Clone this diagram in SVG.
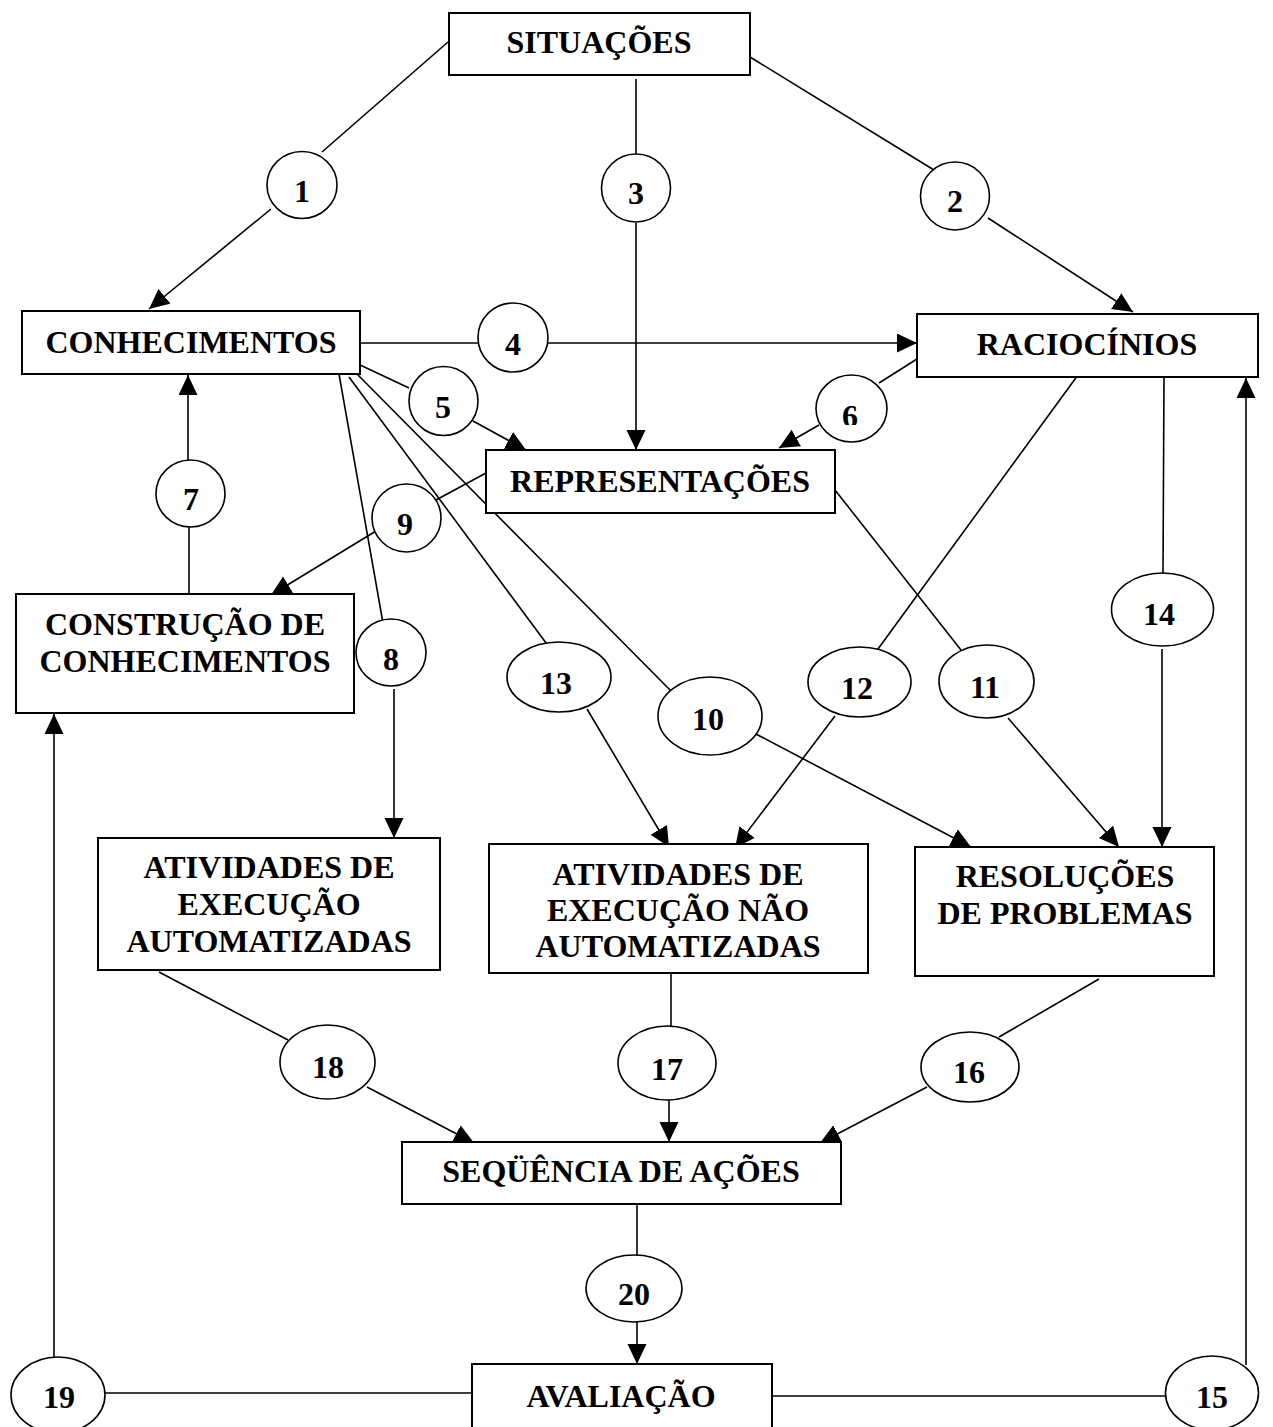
<svg xmlns="http://www.w3.org/2000/svg" width="1273" height="1427" viewBox="0 0 1273 1427">
  <style>
    .box { fill: #fff; stroke: #000; stroke-width: 2; }
    .num { fill: #fff; stroke: #000; stroke-width: 1.6; }
    .lbl { font-family: "Liberation Serif", "Times New Roman", serif; font-weight: bold; font-size: 32px; text-anchor: middle; fill: #000; }
    .edge { fill: none; stroke: #000; stroke-width: 1.6; }
    .arr { marker-end: url(#head); }
  </style>
  <defs>
    <marker id="head" markerUnits="userSpaceOnUse" markerWidth="20" markerHeight="20" refX="20" refY="9.5" orient="auto">
      <path d="M0,0 L20,9.5 L0,19 z" fill="#000"/>
    </marker>
    <clipPath id="clip6">
      <rect x="820" y="380" width="60" height="45"/>
    </clipPath>
  </defs>
  <rect width="1273" height="1427" fill="#fff"/>

  <g id="connectors">
    <path class="edge" d="M448,42 L322,152"/>
    <path class="edge arr" d="M271,209 L149,309"/>
    <path class="edge" d="M636,79 L636,154"/>
    <path class="edge arr" d="M636,223 L636,450"/>
    <path class="edge" d="M750,57 L934,170"/>
    <path class="edge arr" d="M988,218 L1133,312"/>
    <path class="edge" d="M360,343 L478,343"/>
    <path class="edge arr" d="M548,343 L917,343"/>
    <path class="edge" d="M358,364 L409,388"/>
    <path class="edge arr" d="M473,421 L526,450"/>
    <path class="edge" d="M917,359 L879,383"/>
    <path class="edge arr" d="M819,425 L779,448"/>
    <path class="edge" d="M189,594 L189,527"/>
    <path class="edge arr" d="M188,460 L188,375"/>
    <path class="edge" d="M486,473 L436,500"/>
    <path class="edge arr" d="M376,531 L271,595"/>
    <path class="edge" d="M339,374 L383,623"/>
    <path class="edge arr" d="M394,689 L394,838"/>
    <path class="edge" d="M349,377 L552,651"/>
    <path class="edge arr" d="M587,709 L669,847"/>
    <path class="edge" d="M357,374 L673,693"/>
    <path class="edge arr" d="M754,733 L971,847"/>
    <path class="edge" d="M835,490 L961,650"/>
    <path class="edge arr" d="M1008,718 L1119,847"/>
    <path class="edge" d="M1078,375 L878,649"/>
    <path class="edge arr" d="M835,716 L735,848"/>
    <path class="edge" d="M1164,377 L1163,573"/>
    <path class="edge arr" d="M1162,649 L1162,847"/>
    <path class="edge" d="M1173,1396 L772,1396"/>
    <path class="edge arr" d="M1246,1365 L1246,378"/>
    <path class="edge" d="M1099,979 L999,1037"/>
    <path class="edge arr" d="M927,1087 L820,1143"/>
    <path class="edge" d="M671,973 L671,1026"/>
    <path class="edge arr" d="M669,1100 L669,1142"/>
    <path class="edge" d="M159,972 L288,1040"/>
    <path class="edge arr" d="M367,1087 L474,1143"/>
    <path class="edge" d="M472,1393 L105,1393"/>
    <path class="edge arr" d="M54,1357 L54,714"/>
    <path class="edge" d="M637,1204 L637,1255"/>
    <path class="edge arr" d="M637,1322 L637,1364"/>
  </g>

  <!-- concept boxes -->
  <g id="situacoes"><rect class="box" x="449" y="13" width="301" height="62"/><text class="lbl" x="599" y="53">SITUAÇÕES</text></g>
  <g id="conhecimentos"><rect class="box" x="22" y="311" width="338" height="63"/><text class="lbl" x="191" y="353">CONHECIMENTOS</text></g>
  <g id="raciocinios"><rect class="box" x="917" y="314" width="341" height="63"/><text class="lbl" x="1087" y="355">RACIOCÍNIOS</text></g>
  <g id="representacoes"><rect class="box" x="486" y="450" width="349" height="63"/><text class="lbl" x="660" y="492">REPRESENTAÇÕES</text></g>
  <g id="construcao"><rect class="box" x="16" y="594" width="338" height="119"/><text class="lbl" x="185" y="635">CONSTRUÇÃO DE</text><text class="lbl" x="185" y="672">CONHECIMENTOS</text></g>
  <g id="ativ-auto"><rect class="box" x="98" y="838" width="342" height="132"/><text class="lbl" x="269" y="878">ATIVIDADES DE</text><text class="lbl" x="269" y="915">EXECUÇÃO</text><text class="lbl" x="269" y="952">AUTOMATIZADAS</text></g>
  <g id="ativ-nao-auto"><rect class="box" x="489" y="844" width="379" height="129"/><text class="lbl" x="678" y="885">ATIVIDADES DE</text><text class="lbl" x="678" y="921">EXECUÇÃO NÃO</text><text class="lbl" x="678" y="957">AUTOMATIZADAS</text></g>
  <g id="resolucoes"><rect class="box" x="915" y="847" width="299" height="129"/><text class="lbl" x="1065" y="887">RESOLUÇÕES</text><text class="lbl" x="1065" y="924">DE PROBLEMAS</text></g>
  <g id="sequencia"><rect class="box" x="402" y="1142" width="439" height="62"/><text class="lbl" x="621" y="1182">SEQÜÊNCIA DE AÇÕES</text></g>
  <g id="avaliacao"><rect class="box" x="472" y="1364" width="300" height="72"/><text class="lbl" x="621" y="1407">AVALIAÇÃO</text></g>

  <!-- numbered link markers -->
  <g id="n1"><ellipse class="num" cx="302" cy="185" rx="35" ry="33.5"/><text class="lbl" x="302" y="202">1</text></g>
  <g id="n2"><ellipse class="num" cx="955" cy="196" rx="34.5" ry="34"/><text class="lbl" x="955" y="212">2</text></g>
  <g id="n3"><ellipse class="num" cx="636" cy="188" rx="34.5" ry="34"/><text class="lbl" x="636" y="204">3</text></g>
  <g id="n4"><ellipse class="num" cx="513" cy="337.5" rx="35" ry="34.5"/><text class="lbl" x="513" y="355">4</text></g>
  <g id="n5"><ellipse class="num" cx="443.5" cy="401" rx="34.5" ry="34.5"/><text class="lbl" x="443" y="418">5</text></g>
  <g id="n6"><ellipse class="num" cx="851.5" cy="408.5" rx="35.5" ry="33.5"/><text class="lbl" x="850" y="427" clip-path="url(#clip6)">6</text></g>
  <g id="n7"><ellipse class="num" cx="190.5" cy="493.5" rx="34.5" ry="33.5"/><text class="lbl" x="191" y="510">7</text></g>
  <g id="n8"><ellipse class="num" cx="391" cy="652.5" rx="35" ry="33.5"/><text class="lbl" x="391" y="670">8</text></g>
  <g id="n9"><ellipse class="num" cx="406.5" cy="518" rx="34.5" ry="34"/><text class="lbl" x="405" y="535">9</text></g>
  <g id="n10"><ellipse class="num" cx="710" cy="716" rx="52" ry="39"/><text class="lbl" x="708" y="730">10</text></g>
  <g id="n11"><ellipse class="num" cx="986.5" cy="681.5" rx="47.5" ry="36.5"/><text class="lbl" x="985" y="698">11</text></g>
  <g id="n12"><ellipse class="num" cx="859.5" cy="682" rx="51.5" ry="35"/><text class="lbl" x="857" y="699">12</text></g>
  <g id="n13"><ellipse class="num" cx="559" cy="677" rx="52" ry="35"/><text class="lbl" x="556" y="694">13</text></g>
  <g id="n14"><ellipse class="num" cx="1162.5" cy="609.5" rx="51" ry="36.5"/><text class="lbl" x="1159" y="625">14</text></g>
  <g id="n15"><ellipse class="num" cx="1212" cy="1393" rx="46.5" ry="37"/><text class="lbl" x="1212" y="1408">15</text></g>
  <g id="n16"><ellipse class="num" cx="970" cy="1067" rx="49" ry="35"/><text class="lbl" x="969" y="1083">16</text></g>
  <g id="n17"><ellipse class="num" cx="667" cy="1063" rx="49" ry="37"/><text class="lbl" x="667" y="1080">17</text></g>
  <g id="n18"><ellipse class="num" cx="327.5" cy="1062" rx="47.5" ry="37"/><text class="lbl" x="328" y="1078">18</text></g>
  <g id="n19"><ellipse class="num" cx="58" cy="1395" rx="47" ry="38"/><text class="lbl" x="59" y="1408">19</text></g>
  <g id="n20"><ellipse class="num" cx="634" cy="1288.5" rx="48" ry="33.5"/><text class="lbl" x="634" y="1305">20</text></g>
</svg>
